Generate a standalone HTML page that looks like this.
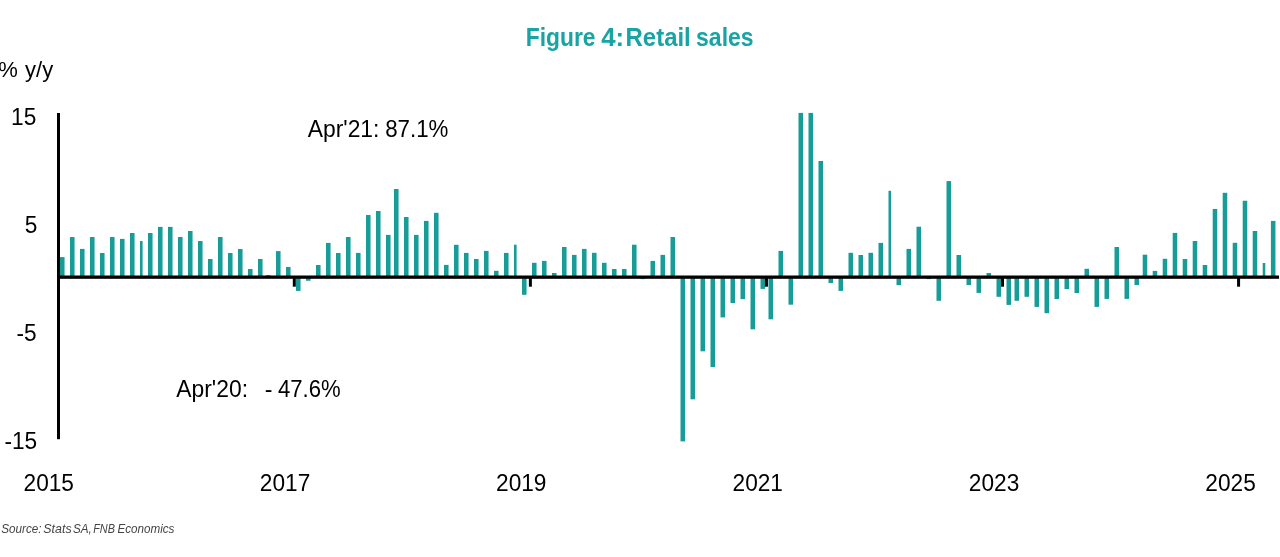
<!DOCTYPE html>
<html><head><meta charset="utf-8"><style>
html,body{margin:0;padding:0;background:#fff;}
body{width:1280px;height:557px;overflow:hidden;position:relative;}
svg{position:absolute;left:0;top:0;will-change:transform;}
text{font-family:"Liberation Sans",sans-serif;}
</style></head><body>
<svg width="1280" height="557" viewBox="0 0 1280 557">
<text transform="matrix(0.9140 0 0 1.0100 525.77 45.90)" font-size="25" font-weight="bold" fill="#18a4a4">Figure</text><text transform="matrix(1.0300 0 0 1.0100 601.25 45.90)" font-size="25" font-weight="bold" fill="#18a4a4">4:</text><text transform="matrix(0.9580 0 0 1.0100 625.58 45.90)" font-size="25" font-weight="bold" fill="#18a4a4">Retail</text><text transform="matrix(0.9200 0 0 1.0100 696.08 45.90)" font-size="25" font-weight="bold" fill="#18a4a4">sales</text>
<g fill="#179c98">
<rect x="60.00" y="257.10" width="4.55" height="19.90"/><rect x="70.00" y="237.00" width="4.55" height="40.00"/><rect x="80.00" y="248.90" width="4.55" height="28.10"/><rect x="90.00" y="237.00" width="4.55" height="40.00"/><rect x="100.00" y="253.00" width="4.55" height="24.00"/><rect x="110.00" y="237.00" width="4.55" height="40.00"/><rect x="120.00" y="238.90" width="4.55" height="38.10"/><rect x="130.00" y="233.00" width="4.55" height="44.00"/><rect x="140.00" y="241.00" width="2.6" height="36.00"/><rect x="148.00" y="233.00" width="4.55" height="44.00"/><rect x="158.00" y="226.90" width="4.55" height="50.10"/><rect x="168.00" y="226.90" width="4.55" height="50.10"/><rect x="178.00" y="237.00" width="4.55" height="40.00"/><rect x="188.00" y="231.00" width="4.55" height="46.00"/><rect x="198.00" y="241.00" width="4.55" height="36.00"/><rect x="208.00" y="259.00" width="4.55" height="18.00"/><rect x="218.00" y="237.00" width="4.55" height="40.00"/><rect x="228.00" y="253.00" width="4.55" height="24.00"/><rect x="238.00" y="249.00" width="4.55" height="28.00"/><rect x="248.00" y="269.00" width="4.55" height="8.00"/><rect x="258.00" y="259.00" width="4.55" height="18.00"/><rect x="266.00" y="275.10" width="4.55" height="1.90"/><rect x="276.00" y="251.10" width="4.55" height="25.90"/><rect x="286.00" y="267.00" width="4.55" height="10.00"/><rect x="296.00" y="277.00" width="4.55" height="13.90"/><rect x="306.00" y="277.00" width="4.55" height="3.75"/><rect x="316.00" y="265.00" width="4.55" height="12.00"/><rect x="326.00" y="242.90" width="4.55" height="34.10"/><rect x="336.00" y="253.00" width="4.55" height="24.00"/><rect x="346.00" y="237.00" width="4.55" height="40.00"/><rect x="356.00" y="252.90" width="4.55" height="24.10"/><rect x="366.00" y="215.00" width="4.55" height="62.00"/><rect x="376.00" y="211.00" width="4.55" height="66.00"/><rect x="386.00" y="234.90" width="4.55" height="42.10"/><rect x="394.00" y="189.00" width="4.55" height="88.00"/><rect x="404.00" y="217.00" width="4.55" height="60.00"/><rect x="414.00" y="234.90" width="4.55" height="42.10"/><rect x="424.00" y="220.90" width="4.55" height="56.10"/><rect x="434.00" y="212.80" width="4.55" height="64.20"/><rect x="444.00" y="264.90" width="4.55" height="12.10"/><rect x="454.00" y="244.80" width="4.55" height="32.20"/><rect x="464.00" y="252.90" width="4.55" height="24.10"/><rect x="474.00" y="259.00" width="4.55" height="18.00"/><rect x="484.00" y="250.90" width="4.55" height="26.10"/><rect x="494.00" y="270.80" width="4.55" height="6.20"/><rect x="504.00" y="252.90" width="4.55" height="24.10"/><rect x="514.00" y="244.70" width="2.6" height="32.30"/><rect x="522.00" y="277.00" width="4.55" height="17.80"/><rect x="532.00" y="262.80" width="4.55" height="14.20"/><rect x="542.00" y="260.90" width="4.55" height="16.10"/><rect x="552.00" y="273.00" width="4.55" height="4.00"/><rect x="562.00" y="247.00" width="4.55" height="30.00"/><rect x="572.00" y="254.90" width="4.55" height="22.10"/><rect x="582.00" y="248.90" width="4.55" height="28.10"/><rect x="592.00" y="252.80" width="4.55" height="24.20"/><rect x="602.00" y="262.80" width="4.55" height="14.20"/><rect x="612.00" y="269.00" width="4.55" height="8.00"/><rect x="622.00" y="269.00" width="4.55" height="8.00"/><rect x="632.00" y="244.70" width="4.55" height="32.30"/><rect x="640.50" y="277.00" width="4.55" height="2.10"/><rect x="650.50" y="260.90" width="4.55" height="16.10"/><rect x="660.50" y="254.90" width="4.55" height="22.10"/><rect x="670.50" y="237.00" width="4.55" height="40.00"/><rect x="680.50" y="277.00" width="4.55" height="164.40"/><rect x="690.50" y="277.00" width="4.55" height="122.30"/><rect x="700.50" y="277.00" width="4.55" height="74.30"/><rect x="710.50" y="277.00" width="4.55" height="90.10"/><rect x="720.50" y="277.00" width="4.55" height="40.40"/><rect x="730.50" y="277.00" width="4.55" height="26.10"/><rect x="740.50" y="277.00" width="4.55" height="22.10"/><rect x="750.50" y="277.00" width="4.55" height="52.30"/><rect x="760.50" y="277.00" width="4.55" height="11.90"/><rect x="768.50" y="277.00" width="4.55" height="42.30"/><rect x="778.50" y="250.90" width="4.55" height="26.10"/><rect x="788.50" y="277.00" width="4.55" height="27.70"/><rect x="798.50" y="112.90" width="4.55" height="164.10"/><rect x="808.50" y="112.90" width="4.55" height="164.10"/><rect x="818.50" y="161.00" width="4.55" height="116.00"/><rect x="828.50" y="277.00" width="4.55" height="6.00"/><rect x="838.50" y="277.00" width="4.55" height="13.90"/><rect x="848.50" y="252.80" width="4.55" height="24.20"/><rect x="858.50" y="255.00" width="4.55" height="22.00"/><rect x="868.50" y="252.80" width="4.55" height="24.20"/><rect x="878.50" y="242.90" width="4.55" height="34.10"/><rect x="888.50" y="190.80" width="2.6" height="86.20"/><rect x="896.50" y="277.00" width="4.55" height="8.10"/><rect x="906.50" y="248.90" width="4.55" height="28.10"/><rect x="916.50" y="226.70" width="4.55" height="50.30"/><rect x="926.50" y="277.00" width="4.55" height="2.10"/><rect x="936.50" y="277.00" width="4.55" height="23.80"/><rect x="946.50" y="181.10" width="4.55" height="95.90"/><rect x="956.50" y="255.00" width="4.55" height="22.00"/><rect x="966.50" y="277.00" width="4.55" height="8.00"/><rect x="976.50" y="277.00" width="4.55" height="15.90"/><rect x="986.50" y="273.00" width="4.55" height="4.00"/><rect x="996.50" y="277.00" width="4.55" height="19.80"/><rect x="1006.50" y="277.00" width="4.55" height="27.90"/><rect x="1014.50" y="277.00" width="4.55" height="23.80"/><rect x="1024.50" y="277.00" width="4.55" height="19.80"/><rect x="1034.50" y="277.00" width="4.55" height="29.90"/><rect x="1044.50" y="277.00" width="4.55" height="36.20"/><rect x="1054.50" y="277.00" width="4.55" height="22.00"/><rect x="1064.50" y="277.00" width="4.55" height="12.00"/><rect x="1074.50" y="277.00" width="4.55" height="16.00"/><rect x="1084.50" y="268.80" width="4.55" height="8.20"/><rect x="1094.50" y="277.00" width="4.55" height="29.90"/><rect x="1104.50" y="277.00" width="4.55" height="21.90"/><rect x="1114.50" y="247.00" width="4.55" height="30.00"/><rect x="1124.50" y="277.00" width="4.55" height="21.90"/><rect x="1134.50" y="277.00" width="4.55" height="8.00"/><rect x="1142.70" y="254.70" width="4.55" height="22.30"/><rect x="1152.70" y="270.90" width="4.55" height="6.10"/><rect x="1162.70" y="258.80" width="4.55" height="18.20"/><rect x="1172.70" y="232.90" width="4.55" height="44.10"/><rect x="1182.70" y="259.00" width="4.55" height="18.00"/><rect x="1192.70" y="241.00" width="4.55" height="36.00"/><rect x="1202.70" y="265.00" width="4.55" height="12.00"/><rect x="1212.70" y="209.00" width="4.55" height="68.00"/><rect x="1222.70" y="192.80" width="4.55" height="84.20"/><rect x="1232.70" y="242.80" width="4.55" height="34.20"/><rect x="1242.70" y="200.75" width="4.55" height="76.25"/><rect x="1252.70" y="231.00" width="4.55" height="46.00"/><rect x="1262.70" y="263.00" width="2.6" height="14.00"/><rect x="1270.90" y="220.90" width="4.55" height="56.10"/>
</g>
<g fill="#000">
<rect x="57" y="113" width="3" height="326.2"/>
<rect x="57" y="275.5" width="1222" height="3.3"/>
<rect x="292.80" y="277" width="3" height="9.7"/><rect x="528.87" y="277" width="3" height="9.7"/><rect x="764.94" y="277" width="3" height="9.7"/><rect x="1001.01" y="277" width="3" height="9.7"/><rect x="1237.08" y="277" width="3" height="9.7"/>
</g>
<g fill="#000">
<text transform="matrix(1.0300 0 0 1.0670 11.08 124.90)" font-size="22" >15</text><text transform="matrix(1.0300 0 0 1.0670 24.77 232.90)" font-size="22" >5</text><text transform="matrix(1.0300 0 0 1.0670 16.53 341.00)" font-size="22" >-5</text><text transform="matrix(1.0300 0 0 1.0670 4.47 449.00)" font-size="22" >-15</text><text transform="matrix(1.0400 0 0 1.0670 307.70 137.00)" font-size="22" >Apr'21:</text><text transform="matrix(1.0150 0 0 1.0670 385.19 137.00)" font-size="22" >87.1%</text><text transform="matrix(1.0400 0 0 1.0670 176.30 396.90)" font-size="22" >Apr'20:</text><text transform="matrix(1.0500 0 0 1.0670 264.70 396.90)" font-size="22" >-</text><text transform="matrix(1.0050 0 0 1.0670 277.90 396.90)" font-size="22" >47.6%</text><text transform="matrix(1.0300 0 0 1.0670 23.57 490.80)" font-size="22" >2015</text><text transform="matrix(1.0300 0 0 1.0670 259.87 490.80)" font-size="22" >2017</text><text transform="matrix(1.0300 0 0 1.0670 496.07 490.80)" font-size="22" >2019</text><text transform="matrix(1.0300 0 0 1.0670 732.57 490.80)" font-size="22" >2021</text><text transform="matrix(1.0300 0 0 1.0670 968.87 490.80)" font-size="22" >2023</text><text transform="matrix(1.0300 0 0 1.0670 1205.37 490.80)" font-size="22" >2025</text><text transform="matrix(1.0000 0 0 1.0000 -1.80 76.50)" font-size="22" >%</text><text transform="matrix(1.0000 0 0 1.0000 25.10 76.50)" font-size="22" >y/y</text>
</g>
<text transform="matrix(0.9000 0 0 0.9800 1.20 532.60)" font-size="13" font-style="italic" fill="#444">Source:</text><text transform="matrix(0.9540 0 0 0.9800 43.35 532.60)" font-size="13" font-style="italic" fill="#444">Stats</text><text transform="matrix(0.9000 0 0 0.9800 72.90 532.60)" font-size="13" font-style="italic" fill="#444">SA,</text><text transform="matrix(0.8380 0 0 0.9800 93.20 532.60)" font-size="13" font-style="italic" fill="#444">FNB</text><text transform="matrix(0.8980 0 0 0.9800 117.40 532.60)" font-size="13" font-style="italic" fill="#444">Economics</text>
</svg>
</body></html>
